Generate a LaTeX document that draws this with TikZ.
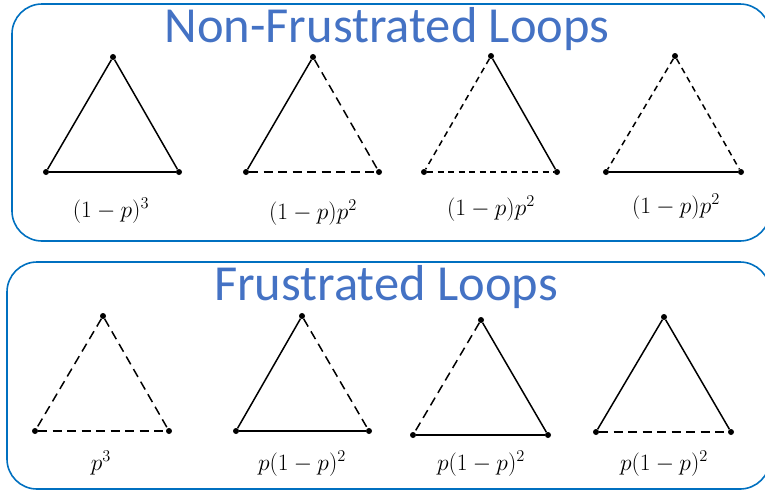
\RequirePackage{fix-cm}
\documentclass[tikz,border=0pt]{standalone}
\usepackage{fontspec}
\newfontfamily\titlefont{Carlito}
\definecolor{boxblue}{RGB}{0,112,192}
\definecolor{titleblue}{RGB}{68,114,196}
\tikzset{
  frame/.style={draw=boxblue, line width=1.6pt, rounded corners=30pt},
  vdot/.style={circle, fill=black, inner sep=0pt, minimum size=6pt},
  edge/.style={line width=1.5pt, black},
  longdash/.style={edge, dash pattern=on 9pt off 5.5pt},
  shortdash/.style={edge, dash pattern=on 6pt off 4.5pt},
  title/.style={anchor=base, text=titleblue, font=\titlefont\fontsize{50.5}{50.5}\selectfont, inner sep=0pt},
  lab/.style={anchor=base, font=\fontsize{23.5}{23.5}\selectfont, inner sep=0pt}
}
\begin{document}
\begin{tikzpicture}[x=1pt, y=-1pt]
\useasboundingbox (0,0) rectangle (765,491);
\begin{scope}
\clip (0,0) rectangle (765,491);
\draw[frame] (12,4) rectangle (770,241);
\draw[frame] (7,262) rectangle (770,489);
\end{scope}
\node[title] (t1) at (387,42) {Non-Frustrated Loops};
\node[title] (t2) at (386,300) {Frustrated Loops};
% top row
\node[vdot] (a1) at (113,57) {}; \node[vdot] (b1) at (46,172) {}; \node[vdot] (c1) at (179,172) {};
\draw[edge] (a1) -- (b1); \draw[edge] (a1) -- (c1); \draw[edge] (b1) -- (c1);
\node[vdot] (a2) at (313,57) {}; \node[vdot] (b2) at (246,172) {}; \node[vdot] (c2) at (379,172) {};
\draw[edge] (a2) -- (b2); \draw[longdash] (a2) -- (c2); \draw[longdash] (b2) -- (c2);
\node[vdot] (a3) at (491,56) {}; \node[vdot] (b3) at (424,172) {}; \node[vdot] (c3) at (557,172) {};
\draw[shortdash] (a3) -- (b3); \draw[edge] (a3) -- (c3); \draw[shortdash] (b3) -- (c3);
\node[vdot] (a4) at (675,56) {}; \node[vdot] (b4) at (606,172) {}; \node[vdot] (c4) at (741,172) {};
\draw[shortdash] (a4) -- (b4); \draw[shortdash] (a4) -- (c4); \draw[edge] (b4) -- (c4);
\node[lab] (l1) at (111,217) {$(1-p)^3$};
\node[lab] (l2) at (313,219) {$(1-p)p^2$};
\node[lab] (l3) at (491,215) {$(1-p)p^2$};
\node[lab] (l4) at (676,213) {$(1-p)p^2$};
% bottom row
\node[vdot] (d1) at (103,316) {}; \node[vdot] (e1) at (35,431) {}; \node[vdot] (f1) at (169,431) {};
\draw[longdash] (d1) -- (e1); \draw[longdash] (d1) -- (f1); \draw[longdash] (e1) -- (f1);
\node[vdot] (d2) at (302,316) {}; \node[vdot] (e2) at (236,431) {}; \node[vdot] (f2) at (369,431) {};
\draw[edge] (d2) -- (e2); \draw[longdash] (d2) -- (f2); \draw[edge] (e2) -- (f2);
\node[vdot] (d3) at (481,320) {}; \node[vdot] (e3) at (413,435) {}; \node[vdot] (f3) at (548,435) {};
\draw[longdash] (d3) -- (e3); \draw[edge] (d3) -- (f3); \draw[edge] (e3) -- (f3);
\node[vdot] (d4) at (664,317) {}; \node[vdot] (e4) at (596,432) {}; \node[vdot] (f4) at (731,432) {};
\draw[edge] (d4) -- (e4); \draw[edge] (d4) -- (f4); \draw[longdash] (e4) -- (f4);
\node[lab] (m1) at (101,470) {$p^3$};
\node[lab] (m2) at (302,470) {$p(1-p)^2$};
\node[lab] (m3) at (481,470) {$p(1-p)^2$};
\node[lab] (m4) at (664,470) {$p(1-p)^2$};
\end{tikzpicture}
\end{document}
